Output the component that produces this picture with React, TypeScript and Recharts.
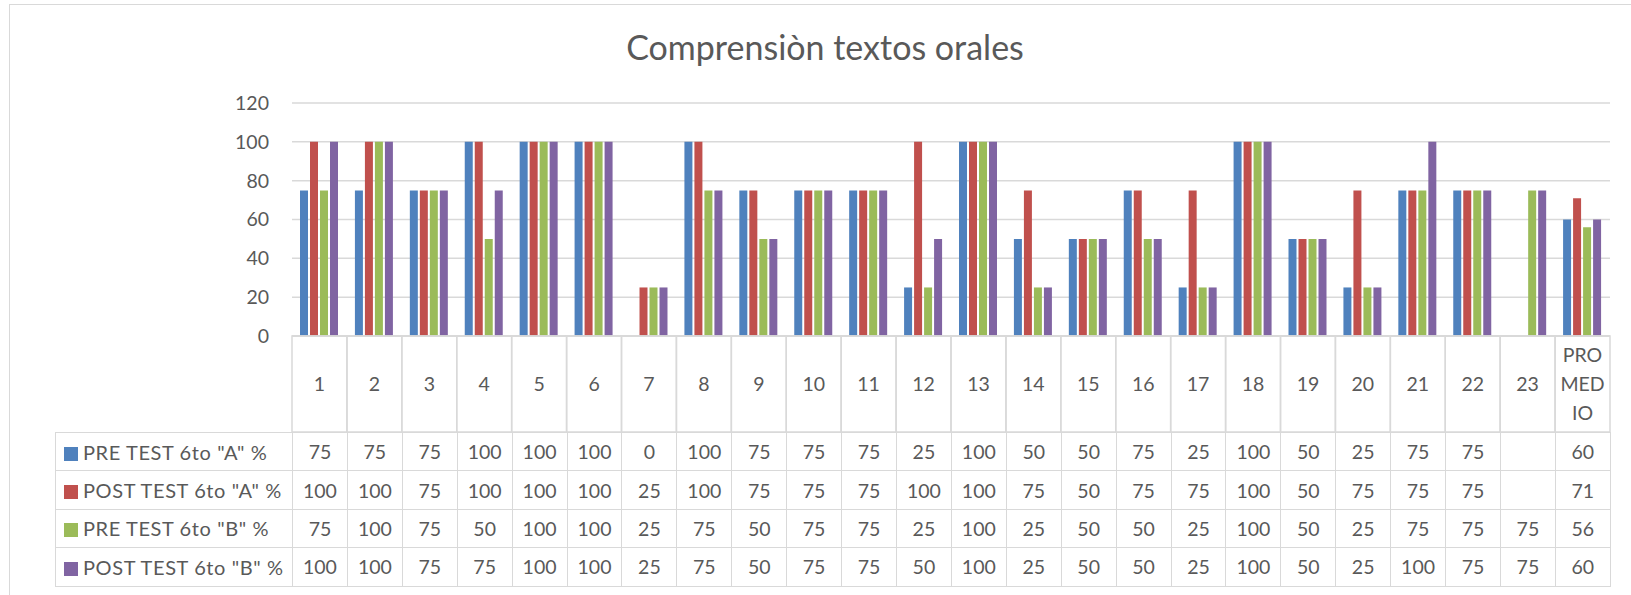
import React from 'react';
import { BarChart, Bar, XAxis, YAxis, CartesianGrid } from 'recharts';

const categories = ['1', '2', '3', '4', '5', '6', '7', '8', '9', '10', '11', '12', '13', '14', '15', '16', '17', '18', '19', '20', '21', '22', '23', 'PROMEDIO'];
const preA: (number | null)[] = [75, 75, 75, 100, 100, 100, 0, 100, 75, 75, 75, 25, 100, 50, 50, 75, 25, 100, 50, 25, 75, 75, null, 60];
const postA: (number | null)[] = [100, 100, 75, 100, 100, 100, 25, 100, 75, 75, 75, 100, 100, 75, 50, 75, 75, 100, 50, 75, 75, 75, null, 71];
const preB: (number | null)[] = [75, 100, 75, 50, 100, 100, 25, 75, 50, 75, 75, 25, 100, 25, 50, 50, 25, 100, 50, 25, 75, 75, 75, 56];
const postB: (number | null)[] = [100, 100, 75, 75, 100, 100, 25, 75, 50, 75, 75, 50, 100, 25, 50, 50, 25, 100, 50, 25, 100, 75, 75, 60];
const yTicks = [0, 20, 40, 60, 80, 100, 120];

const series = [
  { key: 'preA', name: 'PRE TEST 6to "A" %', color: '#4F81BD', values: preA },
  { key: 'postA', name: 'POST TEST 6to "A" %', color: '#C0504D', values: postA },
  { key: 'preB', name: 'PRE TEST 6to "B" %', color: '#9BBB59', values: preB },
  { key: 'postB', name: 'POST TEST 6to "B" %', color: '#8064A2', values: postB },
];

const data = categories.map((cat, i) => {
  const row: Record<string, string | number | null> = { cat };
  series.forEach(s => { row[s.key] = s.values[i]; });
  return row;
});

const FONT = 'Lato, "Open Sans", sans-serif';
const TEXT = '#595959';
const LINE = '#d9d9d9';
const PLOT_LEFT = 292;
const PLOT_RIGHT = 1610;
const PLOT_TOP = 103;
const PLOT_BOTTOM = 336;
const HEADER_H = 96;
const ROW_H = 38.4;
const BAND = (PLOT_RIGHT - PLOT_LEFT) / categories.length;

// category header cell drawn as the x axis tick
const CategoryTick = (props: any) => {
  const { x, payload } = props;
  const label: string = payload.value;
  const lines = label === 'PROMEDIO' ? ['PRO', 'MED', 'IO'] : [label];
  const cy = PLOT_BOTTOM + HEADER_H / 2;
  return (
    <g>
      <rect x={x - BAND / 2} y={PLOT_BOTTOM} width={BAND} height={HEADER_H} fill="none" stroke={LINE} strokeWidth={1.5} />
      <text x={x} y={cy} textAnchor="middle" fill={TEXT} fontSize={19.5} fontFamily={FONT}>
        {lines.map((l, i) => (
          <tspan key={l} x={x} dy={i === 0 ? (-(lines.length - 1) * 29) / 2 + 7 : 29}>{l}</tspan>
        ))}
      </text>
    </g>
  );
};

const App: React.FC = () => {
  const cellBorder = `1.5px solid ${LINE}`;
  return (
    <div style={{ position: 'relative', width: 1631, height: 595, overflow: 'hidden', background: '#fff', fontFamily: FONT }}>
      <style>{'body{margin:0}'}</style>
      {/* chart area frame */}
      <div style={{ position: 'absolute', left: 9, top: 4, width: 1700, height: 700, border: cellBorder }} />

      <div style={{ position: 'absolute', left: 0, top: 26, width: 1650, textAlign: 'center', fontSize: 34, color: TEXT, lineHeight: '42px' }}>
        Comprensiòn textos orales
      </div>

      <div style={{ position: 'absolute', left: 0, top: 0 }}>
        <BarChart
          width={1631}
          height={PLOT_BOTTOM + HEADER_H}
          data={data}
          margin={{ top: PLOT_TOP, right: 1631 - PLOT_RIGHT, left: 0, bottom: 0 }}
          barSize={8}
          barGap={2}
        >
          <CartesianGrid vertical={false} stroke={LINE} strokeWidth={1.5} />
          <XAxis
            dataKey="cat"
            height={HEADER_H}
            interval={0}
            axisLine={{ stroke: LINE, strokeWidth: 1.5 }}
            tickLine={false}
            tick={<CategoryTick />}
          />
          <YAxis
            width={PLOT_LEFT}
            domain={[0, 120]}
            ticks={yTicks}
            axisLine={false}
            tickLine={false}
            tickMargin={17}
            tick={{ fill: TEXT, fontSize: 19.5, fontFamily: FONT }}
          />
          {series.map(s => (
            <Bar key={s.key} dataKey={s.key} name={s.name} fill={s.color} isAnimationActive={false} />
          ))}
        </BarChart>
      </div>

      {/* data table */}
      <table
        style={{
          position: 'absolute',
          left: 55,
          top: PLOT_BOTTOM + HEADER_H,
          width: PLOT_RIGHT - 55,
          borderCollapse: 'collapse',
          tableLayout: 'fixed',
          fontSize: 19.5,
          color: TEXT,
        }}
      >
        <colgroup>
          <col style={{ width: PLOT_LEFT - 55 }} />
          {categories.map(c => <col key={c} style={{ width: BAND }} />)}
        </colgroup>
        <tbody>
          {series.map(s => (
            <tr key={s.key} style={{ height: ROW_H }}>
              <td style={{ border: cellBorder, padding: '0 0 0 8px', whiteSpace: 'nowrap', fontSize: 20, letterSpacing: 0.6 }}>
                <span style={{ display: 'inline-block', width: 14, height: 14, background: s.color, marginRight: 5, verticalAlign: '-1px' }} />
                {s.name}
              </td>
              {s.values.map((v, i) => (
                <td key={i} style={{ border: cellBorder, textAlign: 'center', padding: 0 }}>{v === null ? '' : v}</td>
              ))}
            </tr>
          ))}
        </tbody>
      </table>
    </div>
  );
};

export default App;
